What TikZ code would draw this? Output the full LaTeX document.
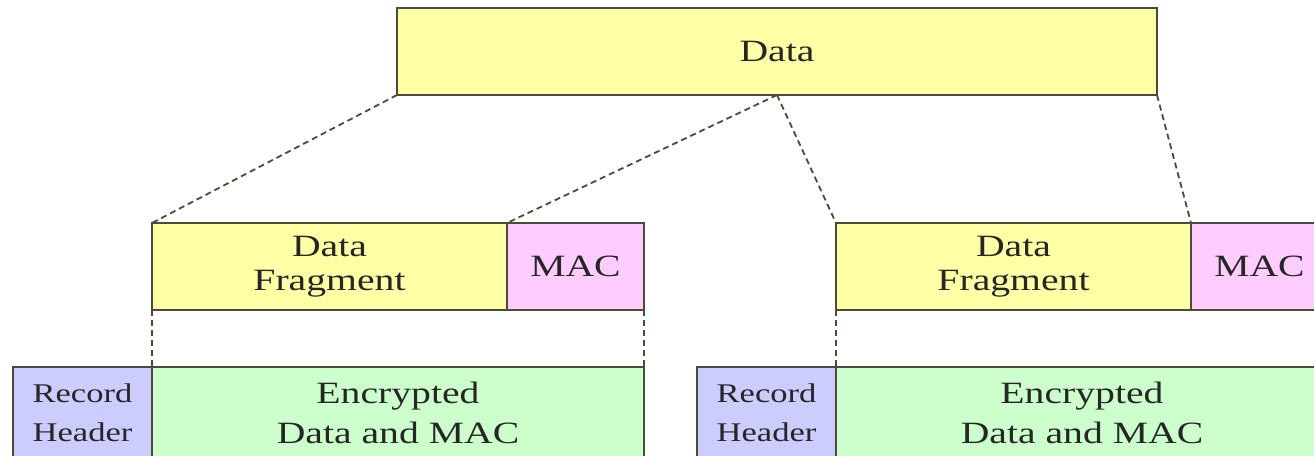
\documentclass[tikz,border=0pt]{standalone}
\usepackage{fontspec}
\setmainfont{Liberation Serif}[FakeStretch=1.28]
\usetikzlibrary{positioning}

\definecolor{datayellow}{RGB}{255,255,165}
\definecolor{macpink}{RGB}{255,204,255}
\definecolor{encgreen}{RGB}{204,255,204}
\definecolor{hdrblue}{RGB}{204,204,255}
\definecolor{edgegray}{RGB}{75,75,60}

\tikzset{
  field/.style={draw=edgegray, line width=2pt, outer sep=0pt, inner sep=0pt,
    align=center, text=black!85, minimum height=87,
    font=\fontsize{31}{34}\selectfont},
  datafield/.style={field, fill=datayellow},
  macfield/.style={field, fill=macpink, minimum width=137},
  encfield/.style={field, fill=encgreen, minimum height=92,
    font=\fontsize{31}{40}\selectfont},
  hdrfield/.style={field, fill=hdrblue, minimum height=92, minimum width=139,
    font=\fontsize{27}{39}\selectfont},
  cutline/.style={draw=edgegray, line width=1.8pt, dash pattern=on 6pt off 4pt},
}

\begin{document}
\begin{tikzpicture}[x=1pt, y=1pt]
\useasboundingbox (0, 0) rectangle (1314, 455);
\node [datafield, minimum width=760] (data) at (777, 403.5) {Data};

\begin{scope}[shift={(0, 0)}]
\node [datafield, minimum width=355] (lfrag) at (329.5, 188.5) {Data\\Fragment};
\node [macfield, right=0pt of lfrag] (lmac) {MAC};
\node [hdrfield, anchor=north east] (lhdr) at (152, 88) {Record\\Header};
\node [encfield, right=0pt of lhdr, minimum width=492] (lenc) {Encrypted\\Data and MAC};
\end{scope}

\begin{scope}[shift={(684, 0)}]
\node [datafield, minimum width=355] (rfrag) at (329.5, 188.5) {Data\\Fragment};
\node [macfield, right=0pt of rfrag] (rmac) {MAC};
\node [hdrfield, anchor=north east] (rhdr) at (152, 88) {Record\\Header};
\node [encfield, right=0pt of rhdr, minimum width=492] (renc) {Encrypted\\Data and MAC};
\end{scope}

\draw [cutline] (data.south west) -- (lfrag.north west);
\draw [cutline] (data.south) -- (lmac.north west);
\draw [cutline] (data.south) -- (rfrag.north west);
\draw [cutline] (data.south east) -- (rmac.north west);

\draw [cutline] (lfrag.south west) -- (lenc.north west);
\draw [cutline] (lmac.south east) -- (lenc.north east);
\draw [cutline] (rfrag.south west) -- (renc.north west);
\end{tikzpicture}
\end{document}
